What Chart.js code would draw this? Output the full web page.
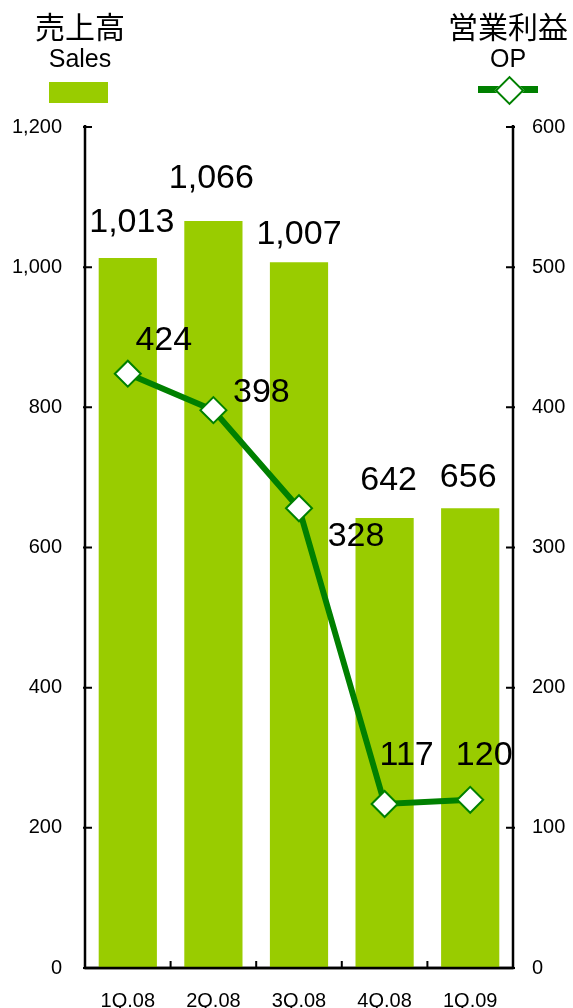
<!DOCTYPE html>
<html>
<head>
<meta charset="utf-8">
<script src="https://cdn.jsdelivr.net/npm/chart.js@4"></script>
<style>
  html, body { margin: 0; padding: 0; background: #fff; overflow: hidden; width: 573px; height: 1008px; }
  #wrap { position: absolute; left: 0; top: 0; width: 573px; height: 1040px; }
  .head { position: absolute; text-align: center; color: #000; white-space: nowrap; }
  .jp { font-family: "Noto Sans CJK JP", sans-serif; font-size: 30px; line-height: 30px; }
  .en { font-family: "Liberation Sans", Arial, sans-serif; font-size: 25px; line-height: 25px; }
</style>
</head>
<body>
<div id="wrap">
  <canvas id="grafico" width="573" height="1040"></canvas>
</div>
<!-- encabezados / leyenda -->
<div class="head jp" style="left:20px; width:120px; top:10px;">売上高</div>
<div class="head en" style="left:20px; width:120px; top:46px;">Sales</div>
<div style="position:absolute; left:49px; top:82px; width:59px; height:21px; background:#99cc00;"></div>

<div class="head jp" style="left:438px; width:140px; top:10px;">営業利益</div>
<div class="head en" style="left:448px; width:120px; top:46px;">OP</div>
<div style="position:absolute; left:478px; top:86px; width:60px; height:7px; background:#008000;"></div>
<div style="position:absolute; left:499px; top:80px; width:17px; height:17px; background:#fff; border:2px solid #008000; transform:rotate(45deg);"></div>

<script>
// Datos del gráfico
const trimestres = ['1Q.08', '2Q.08', '3Q.08', '4Q.08', '1Q.09'];
const ventas = [1013, 1066, 1007, 642, 656];
const beneficioOperativo = [424, 398, 328, 117, 120];
const ticksVentas = [0, 200, 400, 600, 800, 1000, 1200];
const ticksOP = [0, 100, 200, 300, 400, 500, 600];

// desplazamientos de las etiquetas (px)
const despBarras = [[4, -35], [-2, -42], [0, -28], [4, -37], [-2, -31]];
const despLinea = [[36, -33], [48, -18], [57, 28], [22, -48], [14, -44]];

const fuenteNum = '"Liberation Sans", Arial, sans-serif';

const etiquetas = {
  id: 'etiquetas',
  afterDatasetsDraw(chart) {
    const ctx = chart.ctx;
    ctx.save();
    ctx.fillStyle = '#000';
    ctx.font = '34px ' + fuenteNum;
    ctx.textAlign = 'center';
    ctx.textBaseline = 'middle';
    chart.getDatasetMeta(1).data.forEach((bar, i) => {
      ctx.fillText(ventas[i].toLocaleString('en-US'), bar.x + despBarras[i][0], bar.y + despBarras[i][1]);
    });
    chart.getDatasetMeta(0).data.forEach((pt, i) => {
      ctx.fillText(String(beneficioOperativo[i]), pt.x + despLinea[i][0], pt.y + despLinea[i][1]);
    });
    ctx.restore();
  }
};

// ejes con marcas hacia adentro
const ejes = {
  id: 'ejes',
  beforeDatasetsDraw(chart) {
    const { ctx, chartArea: a } = chart;
    const y = chart.scales.y, y1 = chart.scales.y1, x = chart.scales.x;
    ctx.save();
    ctx.strokeStyle = '#000';
    ctx.lineWidth = 2.5;
    ctx.beginPath();
    ctx.moveTo(a.left, a.top - 2); ctx.lineTo(a.left, a.bottom);
    ctx.lineTo(a.right, a.bottom); ctx.lineTo(a.right, a.top - 2);
    ctx.stroke();
    ctx.lineWidth = 2;
    ctx.beginPath();
    ticksVentas.forEach(v => {
      const p = y.getPixelForValue(v);
      ctx.moveTo(a.left - 2, p); ctx.lineTo(a.left + 7, p);
    });
    ticksOP.forEach(v => {
      const p = y1.getPixelForValue(v);
      ctx.moveTo(a.right + 2, p); ctx.lineTo(a.right - 7, p);
    });
    for (let i = 1; i < trimestres.length; i++) {
      const p = (x.getPixelForValue(i - 1) + x.getPixelForValue(i)) / 2;
      ctx.moveTo(p, a.bottom); ctx.lineTo(p, a.bottom - 7);
    }
    ctx.stroke();
    ctx.restore();
  },
  afterDatasetsDraw(chart) {
    const { ctx, chartArea: a } = chart;
    ctx.save();
    ctx.strokeStyle = '#000';
    ctx.lineWidth = 2.5;
    ctx.beginPath();
    ctx.moveTo(a.left, a.bottom); ctx.lineTo(a.right, a.bottom);
    ctx.stroke();
    ctx.restore();
  }
};

new Chart(document.getElementById('grafico').getContext('2d'), {
  data: {
    labels: trimestres,
    datasets: [{
      type: 'line',
      label: 'OP',
      data: beneficioOperativo,
      yAxisID: 'y1',
      borderColor: '#008000',
      borderWidth: 6,
      pointStyle: 'rectRot',
      pointRadius: 13,
      pointHoverRadius: 13,
      pointBackgroundColor: '#ffffff',
      pointBorderColor: '#008000',
      pointBorderWidth: 2,
      tension: 0,
      order: 0
    }, {
      type: 'bar',
      label: 'Sales',
      data: ventas,
      yAxisID: 'y',
      backgroundColor: '#99cc00',
      borderWidth: 0,
      barPercentage: 0.68,
      categoryPercentage: 1,
      order: 1
    }]
  },
  options: {
    responsive: false,
    devicePixelRatio: 1,
    animation: false,
    layout: { padding: { top: 127, left: 0, right: 0, bottom: 0 } },
    plugins: {
      legend: { display: false },
      tooltip: { enabled: false },
      title: { display: false }
    },
    scales: {
      x: {
        grid: { display: false, drawTicks: false },
        border: { display: false },
        ticks: { color: '#000', font: { family: fuenteNum, size: 20 }, padding: 21 },
        afterFit(s) { s.height = 1040 - 968; }
      },
      y: {
        position: 'left',
        min: 0, max: 1200,
        grid: { display: false, drawTicks: false },
        border: { display: false },
        ticks: {
          stepSize: 200, color: '#000', padding: 23,
          font: { family: fuenteNum, size: 20 },
          callback: v => v.toLocaleString('en-US')
        },
        afterFit(s) { s.width = 85; }
      },
      y1: {
        position: 'right',
        min: 0, max: 600,
        grid: { display: false, drawTicks: false },
        border: { display: false },
        ticks: {
          stepSize: 100, color: '#000', padding: 19,
          font: { family: fuenteNum, size: 20 }
        },
        afterFit(s) { s.width = 573 - 513; }
      }
    }
  },
  plugins: [ejes, etiquetas]
});
</script>
</body>
</html>
